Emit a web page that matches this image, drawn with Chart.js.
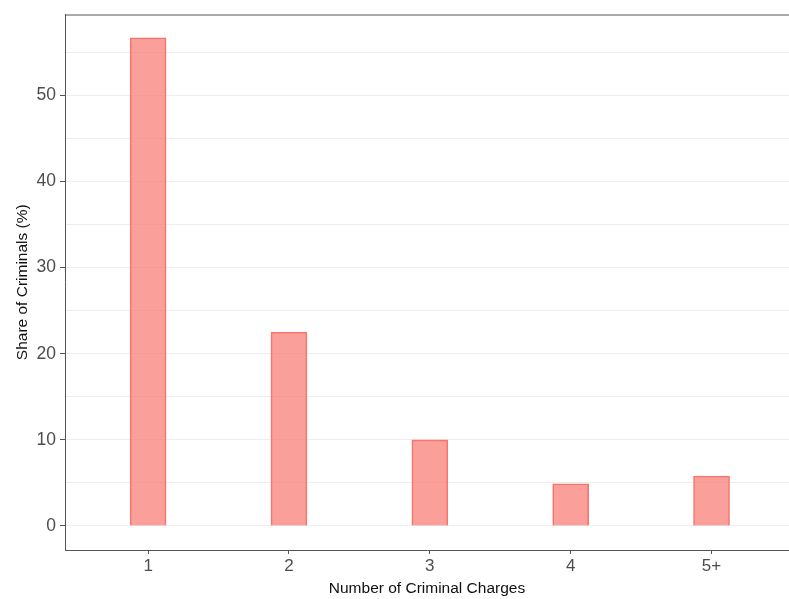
<!DOCTYPE html>
<html>
<head>
<meta charset="utf-8">
<script src="https://cdn.jsdelivr.net/npm/chart.js@4/dist/chart.umd.min.js"></script>
<style>
  html, body { margin: 0; padding: 0; background: #fff; }
  #grafico { display: block; }
</style>
</head>
<body>
<canvas id="grafico" width="789" height="599"></canvas>
<script>
// datos
const categorias = ['1', '2', '3', '4', '5+'];
const posiciones = [1, 2, 3, 4, 5];
const porcentajes = [56.7, 22.5, 10.0, 4.9, 5.8];
const ticksY = [0, 5, 10, 15, 20, 25, 30, 35, 40, 45, 50, 55];

const puntos = posiciones.map((x, i) => ({ x: x, y: porcentajes[i] }));

// linea del borde superior del panel
const bordeSuperior = {
  id: 'bordeSuperior',
  afterDraw(chart) {
    const ctx = chart.ctx;
    const a = chart.chartArea;
    ctx.save();
    ctx.strokeStyle = '#555555';
    ctx.lineWidth = 1;
    ctx.beginPath();
    ctx.moveTo(a.left, a.top + 0.5);
    ctx.lineTo(a.right, a.top + 0.5);
    ctx.stroke();
    ctx.restore();
  }
};

const fuente = 'Liberation Sans, Arial, Helvetica, sans-serif';

new Chart(document.getElementById('grafico'), {
  type: 'bar',
  data: {
    datasets: [{
      data: puntos,
      backgroundColor: 'rgba(248,118,109,0.7)',
      borderColor: '#F8766D',
      borderWidth: 1,
      barThickness: 36
    }]
  },
  options: {
    responsive: false,
    animation: false,
    layout: { padding: { top: 14, right: 0, left: 0, bottom: 0 } },
    plugins: { legend: { display: false }, tooltip: { enabled: false } },
    scales: {
      x: {
        type: 'linear',
        offset: false,
        min: 0.41,
        max: 5.55,
        afterBuildTicks: s => { s.ticks = posiciones.map(v => ({ value: v })); },
        afterFit: s => { s.height = 49; },
        grid: { display: true, offset: false, drawOnChartArea: false, tickLength: 4, tickColor: '#555555' },
        border: { color: '#555555', width: 1 },
        ticks: {
          padding: 2,
          color: '#4d4d4d',
          font: { family: fuente, size: 17 },
          maxRotation: 0,
          callback: v => categorias[posiciones.indexOf(v)]
        },
        title: {
          display: true,
          text: 'Number of Criminal Charges',
          color: '#111111',
          font: { family: fuente, size: 15.5 },
          padding: { top: 0, bottom: 1 }
        }
      },
      y: {
        min: -2.8,
        max: 59.4,
        afterBuildTicks: s => { s.ticks = ticksY.map(v => ({ value: v })); },
        afterFit: s => { s.width = 65; },
        grid: {
          color: '#eeeeee',
          tickLength: 5,
          tickColor: ctx => (ctx.tick && ctx.tick.value % 10 === 0) ? '#555555' : 'rgba(0,0,0,0)'
        },
        border: { color: '#555555', width: 1 },
        ticks: {
          padding: 4,
          color: '#4d4d4d',
          font: { family: fuente, size: 17.5 },
          callback: v => (v % 10 === 0 ? String(v) : '')
        },
        title: {
          display: true,
          text: 'Share of Criminals (%)',
          color: '#111111',
          font: { family: fuente, size: 15.5 },
          padding: { top: 13, bottom: 0 }
        }
      }
    }
  },
  plugins: [bordeSuperior]
});
</script>
</body>
</html>
